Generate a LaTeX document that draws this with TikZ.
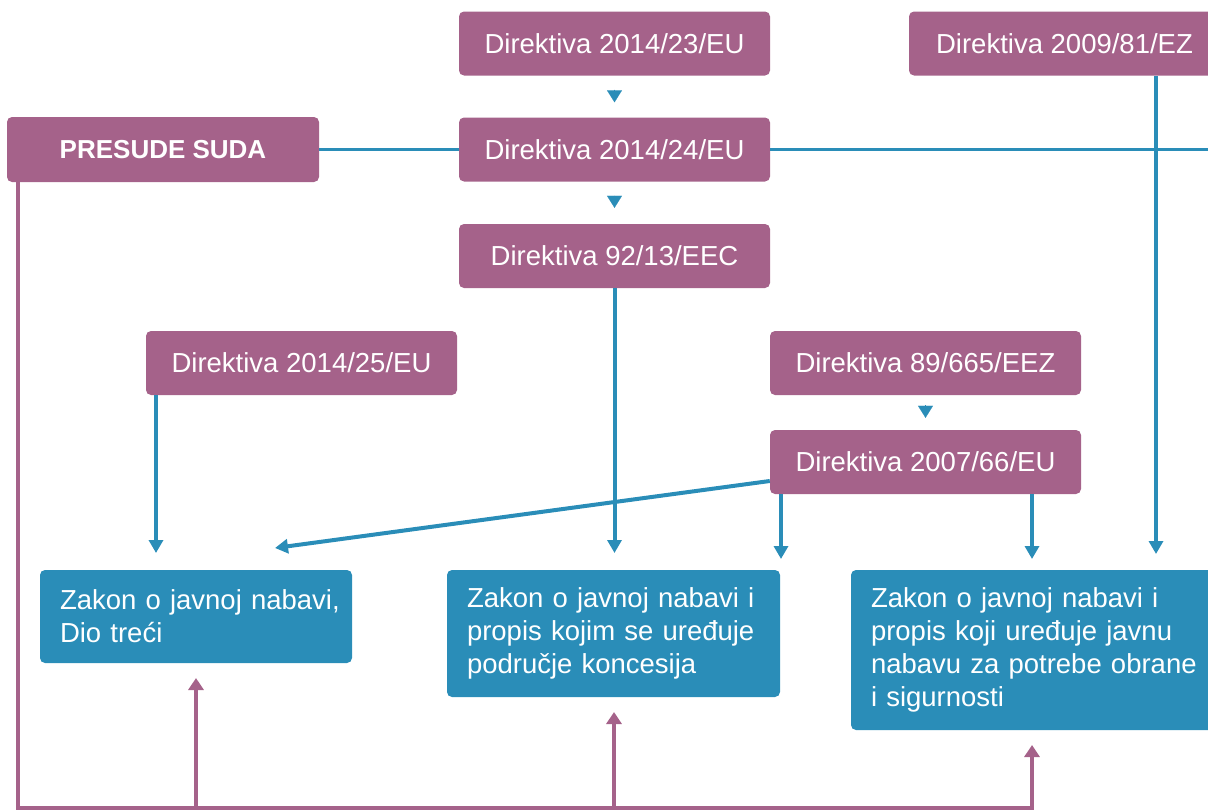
\documentclass[tikz,border=0pt]{standalone}
\usepackage{fontspec}
\setmainfont{Liberation Sans}
\usetikzlibrary{arrows.meta}
\definecolor{plum}{HTML}{A5628A}
\definecolor{sea}{HTML}{2A8DB8}

\begin{document}
\begin{tikzpicture}[x=1pt,y=1pt,
  txt/.style={font=\fontsize{27.5}{33}\selectfont},
  dirbox/.style={txt, fill=plum, rounded corners=5pt, text=white,
    minimum width=311pt, minimum height=64pt, inner sep=0pt},
  lawbox/.style={txt, fill=sea, rounded corners=5pt, text=white, align=left,
    inner xsep=20pt, inner ysep=0pt},
  link/.style={draw=sea, line width=4pt, -{Triangle[width=14pt,length=13pt]}},
  rule/.style={draw=sea, line width=3pt},
  notch/.style={draw=sea, fill=sea, line width=0.1pt,
    -{Triangle[width=15pt,length=12pt]}},
  court/.style={draw=plum, line width=4pt, -{Triangle[width=15pt,length=12pt]}},
]
\useasboundingbox (0,0) rectangle (1208,-811);
\clip (0,0) rectangle (1208,-811);

% directive boxes
\node[dirbox] (b1) at (614.5,-43.5) {Direktiva 2014/23/EU};
\node[dirbox] (b2) at (1064.5,-43.5) {Direktiva 2009/81/EZ};
\node[dirbox, font=\fontsize{26}{30}\selectfont\bfseries, minimum width=312pt, minimum height=65pt]
  (presude) at (163,-149.5) {PRESUDE SUDA};
\node[dirbox] (b3) at (614.5,-149.5) {Direktiva 2014/24/EU};
\node[dirbox] (b4) at (614.5,-256) {Direktiva 92/13/EEC};
\node[dirbox] (b5) at (301.5,-363) {Direktiva 2014/25/EU};
\node[dirbox] (b6) at (925.5,-363) {Direktiva 89/665/EEZ};
\node[dirbox] (b7) at (925.5,-462) {Direktiva 2007/66/EU};

% national law boxes (each line kept whole)
\node[lawbox, text width=272pt, minimum height=93pt] (z1) at (196,-616.5)
  {\mbox{Zakon o javnoj nabavi,}\\\mbox{Dio treći}};
\node[lawbox, text width=293pt, minimum height=127pt] (z2) at (613.5,-633.5)
  {\mbox{Zakon o javnoj nabavi i}\\\mbox{propis kojim se uređuje}\\\mbox{područje koncesija}};
\node[lawbox, text width=329pt, minimum height=160pt] (z3) at (1035.5,-650)
  {\mbox{Zakon o javnoj nabavi i}\\\mbox{propis koji uređuje javnu}\\\mbox{nabavu za potrebe obrane}\\\mbox{i sigurnosti}};

% free ends of the connectors
\coordinate (edge) at (1208,-149.5);
\coordinate (t2) at (1156,-554);
\coordinate (t4) at (614.5,-553);
\coordinate (t5) at (156,-553);
\coordinate (td) at (275,-548);
\coordinate (t7a) at (781,-559);
\coordinate (t7b) at (1032,-559);
\coordinate (corner) at (18,-808);
\coordinate (u1) at (196,-678);
\coordinate (u2) at (614,-712);
\coordinate (u3) at (1032,-745);

% chain markers between directives
\draw[notch, shorten <=14pt, shorten >=15pt] (b1.south) -- (b3.north);
\draw[notch, shorten <=14pt, shorten >=16pt] (b3.south) -- (b4.north);
\draw[notch, shorten <=10pt, shorten >=12pt] (b6.south) -- (b7.north);

% court rulings line
\draw[rule] (presude.east) -- (b3.west);
\draw[rule] (b3.east) -- (edge);

% directives feeding the laws
\draw[link] (b2.south -| t2) -- (t2);
\draw[link] (b4.south) -- (t4);
\draw[link] (b5.south -| t5) -- (t5);
\draw[link] ([yshift=-19pt]b7.west) -- (td);
\draw[link] (b7.south -| t7a) -- (t7a);
\draw[link] (b7.south -| t7b) -- (t7b);

% court rulings feeding the laws
\draw[court] (presude.south -| corner) -- (corner) -- (corner -| u3) -- (u3);
\draw[court] (corner -| u1) -- (u1);
\draw[court] (corner -| u2) -- (u2);
\end{tikzpicture}
\end{document}
